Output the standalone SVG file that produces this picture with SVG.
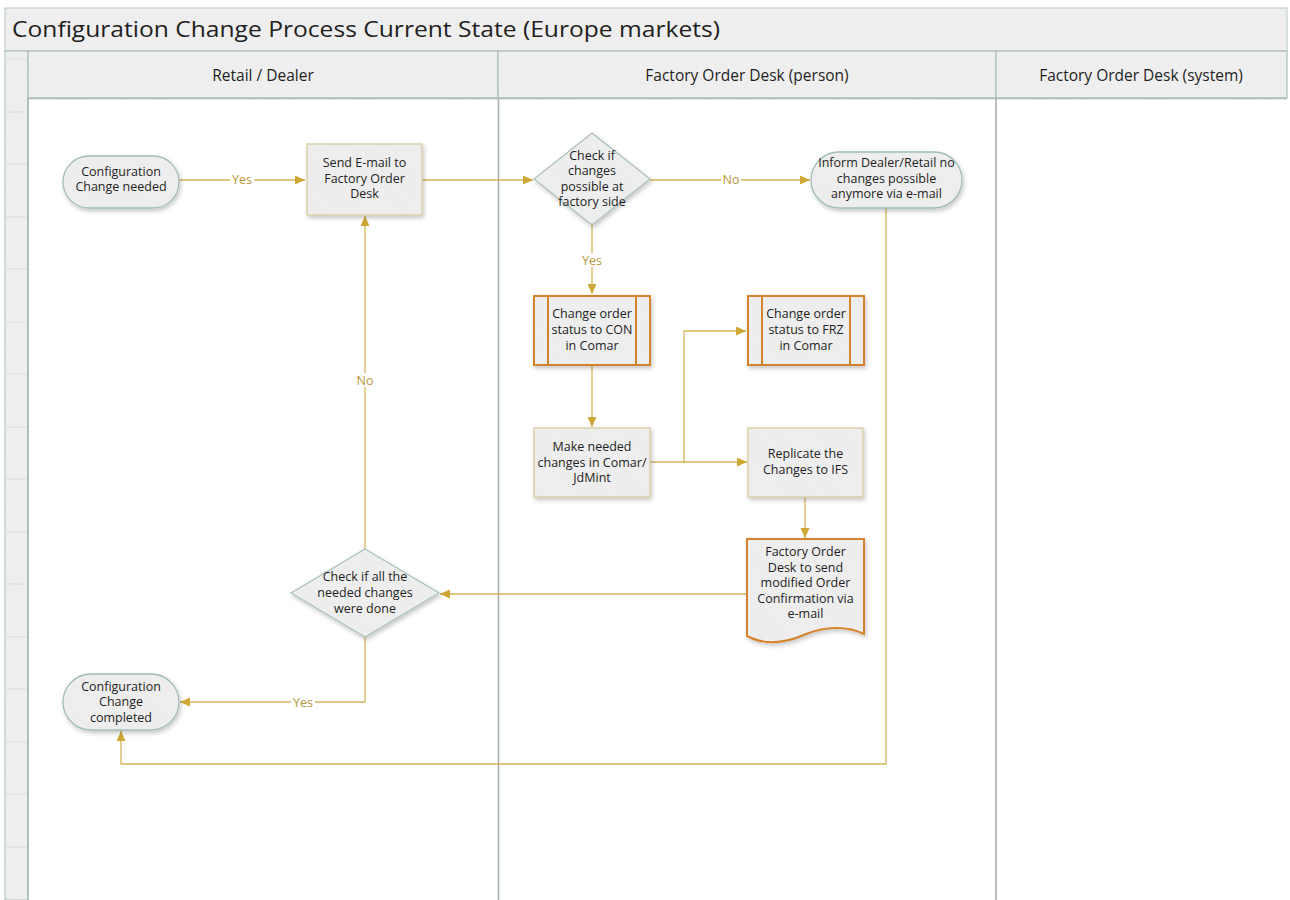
<svg xmlns="http://www.w3.org/2000/svg" width="1290" height="900" viewBox="0 0 1290 900">
<defs>
<pattern id="hatch" width="7" height="7" patternUnits="userSpaceOnUse" patternTransform="rotate(-45)">
<rect width="7" height="7" fill="#EEEEEE"/>
<line x1="0" y1="0" x2="0" y2="7" stroke="#F3F3F3" stroke-width="1.5"/>
</pattern>
<pattern id="hatchN" width="7" height="7" patternUnits="userSpaceOnUse" patternTransform="rotate(-45)">
<rect width="7" height="7" fill="#EDEDED"/>
<line x1="0" y1="0" x2="0" y2="7" stroke="#F2F2F2" stroke-width="1.5"/>
</pattern>
<filter id="sh" x="-20%" y="-20%" width="140%" height="150%">
<feDropShadow dx="1.5" dy="2.5" stdDeviation="2" flood-color="#000" flood-opacity="0.22"/>
</filter>
<marker id="arr" markerUnits="userSpaceOnUse" markerWidth="11" markerHeight="10" refX="10" refY="4.5" orient="auto">
<path d="M0,0 L10,4.5 L0,9 Z" fill="#CFA734"/>
</marker>
<style>
.ln{fill:none;stroke:#D4B55A;stroke-width:1.3}
.lbl{font-family:"Open Sans","Noto Sans",sans-serif;font-size:12.5px;fill:#B8963A;text-anchor:middle}
.lb{fill:#FFFFFF}
.t{font-family:"Open Sans","Noto Sans",sans-serif;font-size:12.5px;fill:#1E1E1E;text-anchor:middle}
.term{fill:url(#hatchN);stroke:#A3BDB6;stroke-width:1.3;filter:url(#sh)}
.proc{fill:url(#hatchN);stroke:#D8CBA2;stroke-width:1.3;filter:url(#sh)}
.dec{fill:url(#hatchN);stroke:#A9C0B9;stroke-width:1.2;filter:url(#sh)}
.sub{fill:url(#hatchN);stroke:#D5832A;stroke-width:2;filter:url(#sh)}
.subl{stroke:#D5832A;stroke-width:2}
.hdr{font-family:"Open Sans","Noto Sans",sans-serif;font-size:15.5px;fill:#1E1E1E;text-anchor:middle}
</style>
</defs>

<g id="pool">
<rect x="0" y="0" width="1290" height="900" fill="#FFFFFF"/>
<rect x="5" y="8" width="1282" height="43" fill="url(#hatch)" stroke="#B8C8C3" stroke-width="1"/>
<text x="12" y="37" font-family="'Open Sans','Noto Sans',sans-serif" font-size="22" fill="#1E1E1E" textLength="708" lengthAdjust="spacingAndGlyphs">Configuration Change Process Current State (Europe markets)</text>
<rect x="5" y="51" width="23" height="849" fill="url(#hatch)" stroke="#A8BDB7" stroke-width="1"/>
<line x1="6" y1="59" x2="55" y2="59" stroke="#DDDDDD" stroke-width="1"/>
<g stroke="#DCDCDC" stroke-width="1">
<line x1="6" y1="112" x2="27" y2="112"/><line x1="6" y1="164" x2="27" y2="164"/><line x1="6" y1="217" x2="27" y2="217"/><line x1="6" y1="269" x2="27" y2="269"/><line x1="6" y1="322" x2="27" y2="322"/><line x1="6" y1="374" x2="27" y2="374"/><line x1="6" y1="427" x2="27" y2="427"/><line x1="6" y1="479" x2="27" y2="479"/><line x1="6" y1="532" x2="27" y2="532"/><line x1="6" y1="584" x2="27" y2="584"/><line x1="6" y1="637" x2="27" y2="637"/><line x1="6" y1="689" x2="27" y2="689"/><line x1="6" y1="742" x2="27" y2="742"/><line x1="6" y1="794" x2="27" y2="794"/><line x1="6" y1="847" x2="27" y2="847"/>
</g>
</g>

<g id="lane-retail">
<rect x="28" y="51" width="470" height="47" fill="url(#hatch)" stroke="#ABBFB9" stroke-width="1.2"/>
<text class="hdr" x="263" y="81">Retail / Dealer</text>
<line x1="28" y1="98" x2="28" y2="900" stroke="#A6B7B2" stroke-width="1.5"/>
</g>
<g id="lane-fod-person">
<rect x="498" y="51" width="498" height="47" fill="url(#hatch)" stroke="#ABBFB9" stroke-width="1.2"/>
<text class="hdr" x="747" y="81">Factory Order Desk (person)</text>
<line x1="498.5" y1="98" x2="498.5" y2="900" stroke="#A6B0AE" stroke-width="1.6"/>
</g>
<g id="lane-fod-system">
<rect x="996" y="51" width="291" height="47" fill="url(#hatch)" stroke="#ABBFB9" stroke-width="1.2"/>
<text class="hdr" x="1141" y="81">Factory Order Desk (system)</text>
<line x1="996" y1="98" x2="996" y2="900" stroke="#A6B0AE" stroke-width="1.6"/>
</g>
<line x1="28" y1="98.5" x2="1287" y2="98.5" stroke="#A9BDB7" stroke-width="1.5"/>

<g id="connectors">
<path class="ln" d="M179,180 H305" marker-end="url(#arr)"/>
<rect class="lb" x="230" y="172" width="24" height="14"/>
<text class="lbl" x="242" y="184">Yes</text>
<path class="ln" d="M422,180 H533" marker-end="url(#arr)"/>
<path class="ln" d="M650,180 H810" marker-end="url(#arr)"/>
<rect class="lb" x="721" y="172" width="20" height="14"/>
<text class="lbl" x="731" y="184">No</text>
<path class="ln" d="M592,225 V294" marker-end="url(#arr)"/>
<rect class="lb" x="580" y="253" width="24" height="14"/>
<text class="lbl" x="592" y="265">Yes</text>
<path class="ln" d="M592,365 V427" marker-end="url(#arr)"/>
<path class="ln" d="M650,462 H684 V331 H746" marker-end="url(#arr)"/>
<path class="ln" d="M684,462 H747" marker-end="url(#arr)"/>
<path class="ln" d="M805,497 V538" marker-end="url(#arr)"/>
<path class="ln" d="M747,594 H440" marker-end="url(#arr)"/>
<path class="ln" d="M365,549 V216" marker-end="url(#arr)"/>
<rect class="lb" x="355" y="373" width="20" height="14"/>
<text class="lbl" x="365" y="385">No</text>
<path class="ln" d="M365,637 V702 H180" marker-end="url(#arr)"/>
<rect class="lb" x="291" y="695" width="24" height="14"/>
<text class="lbl" x="303" y="707">Yes</text>
<path class="ln" d="M886,208 V764 H121 V731" marker-end="url(#arr)"/>
</g>

<g id="n-config-needed">
<rect class="term" x="63" y="156" width="116" height="52" rx="26" ry="26"/>
<text class="t" x="121" y="176">Configuration</text>
<text class="t" x="121" y="191">Change needed</text>
</g>

<g id="n-send-email">
<rect class="proc" x="307" y="144" width="115" height="71"/>
<text class="t" x="364.5" y="167">Send E-mail to</text>
<text class="t" x="364.5" y="183">Factory Order</text>
<text class="t" x="364.5" y="198">Desk</text>
</g>

<g id="n-check-possible">
<polygon class="dec" points="592,133 650,179 592,225 534,179"/>
<text class="t" x="592" y="160">Check if</text>
<text class="t" x="592" y="175">changes</text>
<text class="t" x="592" y="191">possible at</text>
<text class="t" x="592" y="206">factory side</text>
</g>

<g id="n-inform">
<rect class="term" x="811" y="152" width="151" height="56" rx="28" ry="28"/>
<text class="t" x="886.5" y="167">Inform Dealer/Retail no</text>
<text class="t" x="886.5" y="183">changes possible</text>
<text class="t" x="886.5" y="198">anymore via e-mail</text>
</g>

<g id="n-con">
<rect class="sub" x="534" y="296" width="116" height="69"/>
<line class="subl" x1="548" y1="296" x2="548" y2="365"/>
<line class="subl" x1="636" y1="296" x2="636" y2="365"/>
<text class="t" x="592" y="318">Change order</text>
<text class="t" x="592" y="334">status to CON</text>
<text class="t" x="592" y="350">in Comar</text>
</g>

<g id="n-frz">
<rect class="sub" x="748" y="296" width="116" height="69"/>
<line class="subl" x1="762" y1="296" x2="762" y2="365"/>
<line class="subl" x1="850" y1="296" x2="850" y2="365"/>
<text class="t" x="806" y="318">Change order</text>
<text class="t" x="806" y="334">status to FRZ</text>
<text class="t" x="806" y="350">in Comar</text>
</g>

<g id="n-make-changes">
<rect class="proc" x="534" y="428" width="116" height="69"/>
<text class="t" x="592" y="451">Make needed</text>
<text class="t" x="592" y="467">changes in Comar/</text>
<text class="t" x="592" y="482">JdMint</text>
</g>

<g id="n-replicate">
<rect class="proc" x="748" y="428" width="115" height="69"/>
<text class="t" x="805.5" y="458">Replicate the</text>
<text class="t" x="805.5" y="474">Changes to IFS</text>
</g>

<g id="n-send-confirmation">
<path class="sub" d="M747,539 H864 V634 C848,626 826,626 806,634 C786,643 766,646 747,636 Z"/>
<text class="t" x="805.5" y="556">Factory Order</text>
<text class="t" x="805.5" y="572">Desk to send</text>
<text class="t" x="805.5" y="587">modified Order</text>
<text class="t" x="805.5" y="603">Confirmation via</text>
<text class="t" x="805.5" y="618">e-mail</text>
</g>

<g id="n-check-done">
<polygon class="dec" points="365,549 439,593 365,637 291,593"/>
<text class="t" x="365" y="581">Check if all the</text>
<text class="t" x="365" y="597">needed changes</text>
<text class="t" x="365" y="613">were done</text>
</g>

<g id="n-config-completed">
<rect class="term" x="63" y="674" width="116" height="56" rx="28" ry="28"/>
<text class="t" x="121" y="691">Configuration</text>
<text class="t" x="121" y="706">Change</text>
<text class="t" x="121" y="722">completed</text>
</g>
</svg>
